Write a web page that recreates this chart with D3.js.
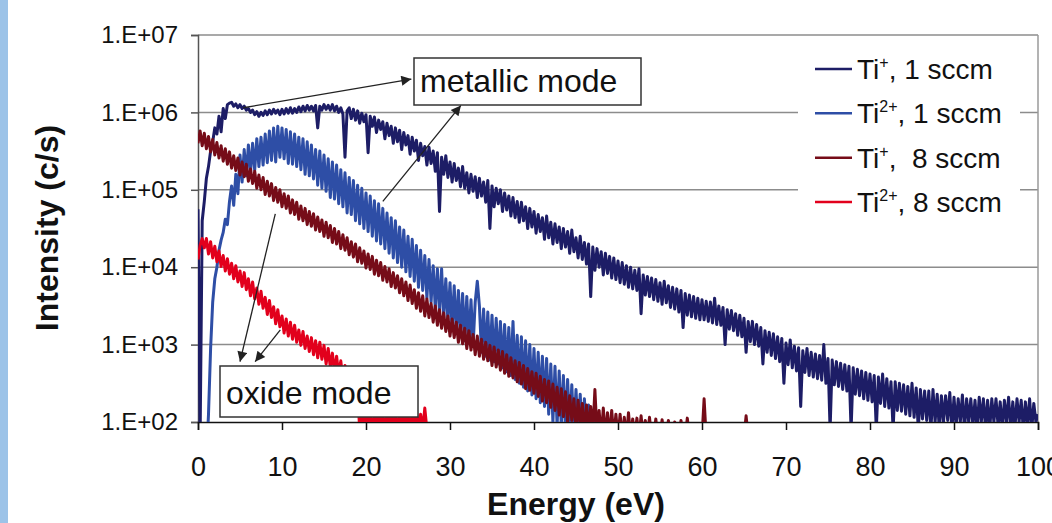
<!DOCTYPE html>
<html>
<head>
<meta charset="utf-8">
<script src="https://cdn.jsdelivr.net/npm/d3@7"></script>
<style>
  body { margin: 0; background: #fff; }
  svg { display: block; }
  text { font-family: "Liberation Sans", Arial, sans-serif; fill: #111; }
</style>
</head>
<body>
<svg id="chart" width="1052" height="523"></svg>
<script>
// energy grid step (eV) shared by all spectra
const energyStep = 0.25;

// log10 of intensity (c/s), one value every 0.25 eV starting at 0 eV
const ti1Log = [
  4.75,1.8,4.6,4.85, 5.15,5.3,5.5,5.62, 5.8,5.72,5.95,5.75, 6.05,5.92,6.1,6.12, 6.13,6.08,6.11,6.06,
  6.1,6.05,6.08,6.03, 6.05,6.0,6.03,5.97, 6.01,5.95,6.0,5.96, 6.02,5.97,6.03,5.98, 6.04,5.99,6.03,5.97,
  6.04,5.98,6.05,5.99, 6.06,5.99,6.05,6.0, 6.07,6.01,6.08,6.02, 6.09,6.03,6.08,6.02, 6.09,5.8,6.08,6.03,
  6.1,6.04,6.09,6.03, 6.1,6.02,6.08,6.0, 6.06,5.98,5.42,6.02, 6.06,5.92,6.04,5.9, 6.02,5.86,5.99,5.88,
  5.97,5.48,5.95,5.82, 5.94,5.74,5.9,5.78, 5.88,5.66,5.86,5.7, 5.82,5.6,5.8,5.62, 5.77,5.52,5.74,5.58,
  5.7,5.46,5.68,5.5, 5.64,5.38,5.6,5.44, 5.56,5.32,5.55,5.34, 5.5,5.24,5.48,4.72, 5.42,5.2,5.44,5.16,
  5.36,5.1,5.34,5.12, 5.28,5.04,5.3,5.02, 5.22,4.96,5.2,4.98, 5.17,4.9,5.15,4.92, 5.1,4.84,5.12,4.5,
  5.05,4.78,5.02,4.82, 5.0,4.72,4.96,4.74, 4.92,4.66,4.9,4.64, 4.85,4.58,4.84,4.6, 4.78,4.5,4.76,4.52,
  4.72,4.44,4.68,4.46, 4.64,4.36,4.66,4.38, 4.58,4.3,4.56,4.32, 4.52,4.24,4.5,4.26, 4.46,4.18,4.48,4.2,
  4.38,4.12,4.4,4.1, 4.32,4.04,4.3,3.62, 4.26,3.96,4.24,4.0, 4.2,3.9,4.18,3.92, 4.14,3.86,4.12,3.84,
  4.08,3.8,4.06,3.78, 4.02,3.74,4.0,3.72, 3.96,3.7,3.98,3.4, 3.9,3.64,3.88,3.62, 3.86,3.58,3.84,3.56,
  3.8,3.52,3.82,3.54, 3.76,3.48,3.74,3.46, 3.72,3.42,3.7,3.22, 3.66,3.38,3.64,3.36, 3.62,3.34,3.6,3.32,
  3.58,3.32,3.56,3.3, 3.55,3.28,3.6,3.26, 3.5,3.25,3.48,3.0, 3.45,3.2,3.44,3.18, 3.4,3.12,3.38,3.1,
  3.34,2.9,3.3,3.04, 3.3,3.0,3.26,2.98, 3.22,2.75,3.18,2.9, 3.16,2.86,3.14,2.82, 3.1,2.78,3.08,2.5,
  3.02,2.74,3.06,2.7, 2.98,2.66,2.96,2.2, 2.92,2.64,2.95,2.6, 2.9,2.58,2.88,2.56, 2.86,2.54,3.0,2.5,
  2.82,1.9,2.8,2.48, 2.78,2.46,2.76,2.42, 2.74,2.4,2.72,1.9, 2.7,2.36,2.68,2.34, 2.66,2.3,2.64,2.28,
  2.62,2.26,2.6,1.9, 2.58,2.24,2.62,2.2, 2.56,2.18,2.52,1.9, 2.52,2.15,2.5,2.14, 2.48,2.1,2.46,2.08,
  2.5,2.06,2.44,1.9, 2.42,2.04,2.4,2.02, 2.4,1.9,2.42,2.0, 2.36,1.9,2.34,2.0, 2.34,2.02,2.38,1.9,
  2.32,1.95,2.3,2.0, 2.35,1.9,2.3,2.0, 2.3,1.95,2.28,1.9, 2.32,2.0,2.3,1.92, 2.28,1.9,2.3,2.0,
  2.3,1.95,2.26,1.9, 2.28,2.0,2.32,1.9, 2.26,1.92,2.3,2.0, 2.28,1.9,2.26,1.95, 2.3,1.9,2.24,2.0,
  2.1
];

const ti2Log = [
  1.5,1.5,1.5,1.5, 1.5,2.1,2.95,3.55, 3.85,4.0,4.22,4.35, 4.45,4.62,4.55,4.85, 5.05,4.8,5.2,4.95,
  5.45,5.1,5.52,5.18, 5.58,5.22,5.6,5.25, 5.66,5.3,5.68,5.32, 5.72,5.35,5.76,5.38, 5.8,5.36,5.82,5.42,
  5.8,5.4,5.78,5.34, 5.75,5.33,5.72,5.3, 5.68,5.26,5.66,5.2, 5.62,5.18,5.58,5.14, 5.52,5.06,5.5,5.02,
  5.45,4.98,5.4,4.9, 5.36,4.88,5.32,4.82, 5.26,4.78,5.22,4.7, 5.16,4.68,5.12,4.6, 5.06,4.56,5.02,4.5,
  4.96,4.46,4.92,4.4, 4.86,4.34,4.82,4.3, 4.76,4.24,4.7,4.18, 4.64,4.12,4.6,4.06, 4.52,4.0,4.48,3.94,
  4.4,3.88,4.36,3.82, 4.28,3.74,4.22,3.7, 4.15,3.6,4.1,3.55, 4.02,3.46,3.98,3.42, 3.98,3.35,3.85,3.3,
  3.8,3.2,3.76,3.15, 3.7,3.1,3.66,3.05, 3.62,3.02,3.58,2.98, 3.55,3.82,3.5,2.9, 3.46,2.85,3.42,2.8,
  3.38,2.78,3.34,2.75, 3.3,2.7,3.26,2.65, 3.22,2.6,3.3,2.55, 3.12,2.5,3.1,2.45, 3.05,2.4,3.0,2.35,
  2.95,2.3,2.9,2.25, 2.85,2.2,2.82,2.1, 2.75,2.0,2.72,1.95, 2.66,1.95,2.6,1.9, 2.55,1.9,2.48,1.85,
  2.42,1.85,2.36,1.8, 2.3,1.8,2.22,1.8, 2.12,1.8,2.05,1.8, 1.8,1.8,1.8,1.8, 1.8,1.8,1.8,1.8,
  1.8
];

const ti8Log = [
  5.6,5.76,5.57,5.73, 5.53,5.69,5.49,5.65, 5.45,5.61,5.41,5.57, 5.37,5.53,5.33,5.49, 5.28,5.44,5.25,5.41,
  5.19,5.36,5.17,5.33, 5.11,5.27,5.08,5.24, 5.02,5.19,5.0,5.16, 4.94,5.11,4.92,5.08, 4.86,5.03,4.84,5.0,
  4.78,4.95,4.76,4.92, 4.7,4.87,4.68,4.84, 4.62,4.79,4.6,4.76, 4.55,4.72,4.53,4.69, 4.48,4.65,4.46,4.61,
  4.4,4.58,4.38,4.54, 4.32,4.5,4.3,4.46, 4.24,4.42,4.22,4.38, 4.16,4.33,4.13,4.3, 4.07,4.25,4.05,4.21,
  3.99,4.17,3.97,4.14, 3.91,4.09,3.89,4.06, 3.83,4.01,3.81,3.98, 3.75,3.93,3.73,3.89, 3.67,3.85,3.63,3.81,
  3.57,3.77,3.53,3.71, 3.47,3.67,3.43,3.63, 3.37,3.59,3.35,3.53, 3.29,3.5,3.25,3.45, 3.21,3.41,3.17,3.37,
  3.11,3.33,3.09,3.29, 3.03,3.25,3.01,3.21, 2.95,3.18,2.93,3.13, 2.87,3.11,2.85,3.07, 2.81,3.03,2.79,2.99,
  2.73,2.97,2.71,2.93, 2.67,2.91,2.63,2.87, 2.59,2.83,2.57,2.79, 2.52,2.77,2.49,2.73, 2.43,2.69,2.41,2.65,
  2.37,2.63,2.33,2.59, 2.27,2.55,2.25,2.53, 2.19,2.49,2.15,2.45, 2.09,2.43,2.07,2.39, 2.0,2.34,2.02,2.3,
  1.9,2.28,1.95,2.24, 1.85,2.22,1.9,2.2, 1.85,2.42,1.85,2.15, 1.8,2.18,1.8,2.12, 1.8,2.15,1.8,2.1,
  1.8,2.1,1.8,2.06, 1.8,2.12,1.8,2.04, 1.8,2.05,1.8,2.08, 1.8,2.02,1.8,2.06, 1.8,1.8,2.04,1.8,
  1.8,2.03,1.8,1.8, 2.02,1.8,1.8,2.0, 1.8,1.8,2.02,1.8, 1.8,2.05,1.8,1.8, 1.8,1.8,1.8,1.8,
  1.8,2.3,1.8,1.8, 1.8,1.8,1.8,1.8, 1.8,1.8,1.8,1.8, 1.8,1.8,1.8,1.8, 1.8,1.8,1.8,1.8,
  1.8,2.08,1.8,1.8, 1.8
];

const ti2_8Log = [
  4.1,4.28,4.37,4.25, 4.37,4.17,4.33,4.12, 4.27,4.07,4.21,4.01, 4.15,3.95,4.11,3.91, 4.05,3.85,4.02,3.81,
  3.95,3.75,3.93,3.71, 3.85,3.63,3.81,3.59, 3.73,3.52,3.69,3.47, 3.61,3.39,3.57,3.35, 3.49,3.27,3.45,3.23,
  3.37,3.15,3.33,3.11, 3.29,3.07,3.25,3.03, 3.19,2.99,3.17,2.95, 3.11,2.91,3.09,2.87, 3.05,2.83,3.03,2.81,
  2.99,2.75,2.95,2.71, 2.89,2.65,2.85,2.61, 2.79,2.55,2.73,2.47, 2.65,2.41,2.59,2.33, 2.4,1.9,2.2,1.9,
  2.15,1.9,2.12,1.9, 2.1,1.9,2.14,1.9, 2.12,1.9,2.1,1.9, 2.14,1.9,2.1,1.9, 2.12,1.9,2.16,1.9,
  2.1,1.9,2.12,1.9, 2.15,1.9,2.1,1.9, 2.18,1.9,1.9,1.9, 1.9
];

const seriesLogs = [ti1Log, ti2Log, ti8Log, ti2_8Log];
const seriesColors = ["#1d1d66", "#2e4ea6", "#760c18", "#e2001c"];
const legendSup = ["+", "2+", "+", "2+"];
const legendRest = [", 1 sccm", ", 1 sccm", ",  8 sccm", ", 8 sccm"];

const xTicks = [0, 10, 20, 30, 40, 50, 60, 70, 80, 90, 100];
const yTicks = [1e2, 1e3, 1e4, 1e5, 1e6, 1e7];
const yTickLabels = ["1.E+02", "1.E+03", "1.E+04", "1.E+05", "1.E+06", "1.E+07"];

// annotation arrows in data units: [E0, log0, E1, log1]
const metallicArrows = [[5.4, 6.06, 25.4, 6.43], [22.0, 4.85, 31.3, 6.09]];
const oxideArrows = [[9.2, 4.69, 5.0, 2.78], [9.8, 3.19, 6.8, 2.78]];

const svg = d3.select("#chart");
const plotLeft = 198, plotRight = 1038, plotTop = 35, plotBottom = 422;

const x = d3.scaleLinear().domain([0, 100]).range([plotLeft, plotRight]);
const y = d3.scaleLog().domain([1e2, 1e7]).range([plotBottom, plotTop]);

// light blue strip on the page edge
svg.append("rect").attr("x", 0).attr("y", 0).attr("width", 8).attr("height", 523).attr("fill", "#9cc3e8");

const defs = svg.append("defs");
defs.append("clipPath").attr("id", "plot-clip")
  .append("rect").attr("x", plotLeft).attr("y", plotTop - 2)
  .attr("width", plotRight - plotLeft).attr("height", plotBottom - plotTop + 2);

defs.append("marker")
  .attr("id", "arrow")
  .attr("viewBox", "0 0 10 10")
  .attr("refX", 10).attr("refY", 5)
  .attr("markerWidth", 13).attr("markerHeight", 10)
  .attr("markerUnits", "userSpaceOnUse")
  .attr("orient", "auto")
  .append("path").attr("d", "M0,0L10,5L0,10z").attr("fill", "#222");

// gridlines
svg.append("g")
  .selectAll("line")
  .data(yTicks.slice(1))
  .enter().append("line")
  .attr("x1", plotLeft).attr("x2", plotRight)
  .attr("y1", d => y(d)).attr("y2", d => y(d))
  .attr("stroke", "#8c8c8c").attr("stroke-width", 1.5);

// right frame
svg.append("line")
  .attr("x1", plotRight).attr("x2", plotRight).attr("y1", plotTop).attr("y2", plotBottom)
  .attr("stroke", "#9a9a9a").attr("stroke-width", 1.5);

// axes
const yAxis = d3.axisLeft(y).tickValues(yTicks).tickFormat((d, i) => yTickLabels[i]).tickSize(7).tickPadding(13);
const gy = svg.append("g").attr("transform", `translate(${plotLeft},0)`).call(yAxis);
gy.select(".domain").attr("stroke", "#555").attr("stroke-width", 1.5);
gy.selectAll(".tick line").attr("stroke", "#555").attr("stroke-width", 1.5);
gy.selectAll(".tick text").attr("font-size", 24).attr("fill", "#111");

const xAxis = d3.axisBottom(x).tickValues(xTicks).tickFormat(d3.format("d")).tickSize(8).tickPadding(27);
const gx = svg.append("g").attr("transform", `translate(0,${plotBottom})`).call(xAxis);
gx.select(".domain").attr("stroke", "#111").attr("stroke-width", 1.5);
gx.selectAll(".tick line").attr("stroke", "#111").attr("stroke-width", 1.5);
gx.selectAll(".tick text").attr("font-size", 27).attr("fill", "#111");

// spectra
const line = d3.line()
  .x((d, i) => x(i * energyStep))
  .y(d => y(Math.pow(10, d)));

const plot = svg.append("g").attr("clip-path", "url(#plot-clip)");
seriesLogs.forEach((vals, k) => {
  plot.append("path")
    .attr("d", line(vals))
    .attr("fill", "none")
    .attr("stroke", seriesColors[k])
    .attr("stroke-width", 3)
    .attr("stroke-linejoin", "round");
});

// axis titles
svg.append("text")
  .attr("transform", "translate(58,228) rotate(-90)")
  .attr("text-anchor", "middle")
  .attr("font-size", 32).attr("font-weight", "bold")
  .text("Intensity (c/s)");

svg.append("text")
  .attr("x", 576).attr("y", 515)
  .attr("text-anchor", "middle")
  .attr("font-size", 32).attr("font-weight", "bold")
  .text("Energy (eV)");

// annotation arrows
function drawArrows(list) {
  svg.append("g").selectAll("line")
    .data(list).enter().append("line")
    .attr("x1", d => x(d[0])).attr("y1", d => y(Math.pow(10, d[1])))
    .attr("x2", d => x(d[2])).attr("y2", d => y(Math.pow(10, d[3])))
    .attr("stroke", "#222").attr("stroke-width", 1.3)
    .attr("marker-end", "url(#arrow)");
}
drawArrows(metallicArrows);
drawArrows(oxideArrows);

// annotation boxes
function labelBox(x0, y0, w, h, label) {
  svg.append("rect").attr("x", x0).attr("y", y0).attr("width", w).attr("height", h)
    .attr("fill", "#fff").attr("stroke", "#333").attr("stroke-width", 1.5);
  svg.append("text").attr("x", x0 + 6).attr("y", y0 + h - 13)
    .attr("font-size", 32).text(label);
}
labelBox(414, 58, 227, 47, "metallic mode");
labelBox(220, 366, 198, 51, "oxide mode");

// legend
const legend = svg.append("g");
legend.append("rect").attr("x", 798).attr("y", 45).attr("width", 222).attr("height", 180).attr("fill", "#fff");
const rowY = d3.scalePoint().domain(d3.range(4)).range([69, 202]);
const rows = legend.selectAll("g.row").data(d3.range(4)).enter().append("g").attr("class", "row");
rows.append("line")
  .attr("x1", 815).attr("x2", 852)
  .attr("y1", i => rowY(i)).attr("y2", i => rowY(i))
  .attr("stroke", i => seriesColors[i]).attr("stroke-width", 2.5);
const lt = rows.append("text")
  .attr("x", 857).attr("y", i => rowY(i) + 10)
  .attr("font-size", 28)
  .style("white-space", "pre");
lt.append("tspan").text("Ti");
lt.append("tspan").attr("font-size", 16).attr("dy", -11).text(i => legendSup[i]);
lt.append("tspan").attr("dy", 11).text(i => legendRest[i]);
</script>
</body>
</html>
